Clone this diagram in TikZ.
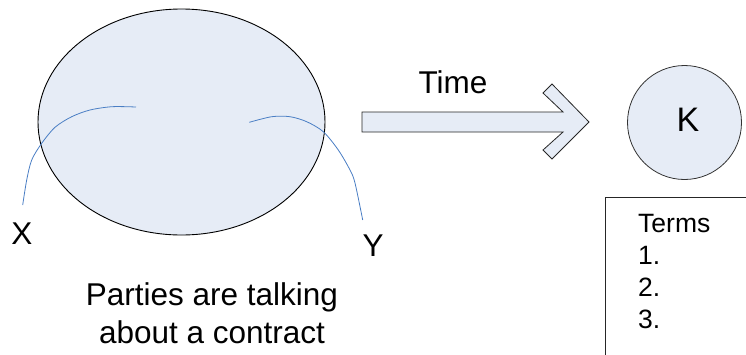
\documentclass[tikz,border=0pt]{standalone}
\usepackage{fontspec}
\setmainfont{Liberation Sans}
\usetikzlibrary{shapes.geometric}
\definecolor{paleblue}{RGB}{230,236,246}
\definecolor{lineblue}{RGB}{74,126,196}
\begin{document}
\begin{tikzpicture}[x=1pt,y=-1pt,
                big/.style={font=\fontsize{31.5}{37.7}\selectfont,inner sep=0pt},
                small/.style={font=\fontsize{26.5}{32}\selectfont,inner sep=0pt},
                talk/.style={lineblue,line width=0.8pt}]
                \clip (0,0) rectangle (746,354);
                \node[draw,fill=paleblue,ellipse,minimum width=287pt,minimum height=226pt,line width=0.9pt] (deal) at (181.5,122) {};
                \node[draw=black!80,fill=paleblue,circle,minimum size=114pt,line width=0.8pt] (k) at (684.5,122.5) {};
                \node[inner sep=0pt,font=\fontsize{34}{40}\selectfont,anchor=base] (klabel) at (688,131.7) {K};
                \foreach \x/\y/\n/\t in {22/244.3/partyx/X, 373/256/partyy/Y, 453/93.3/time/Time}
                \node[big,anchor=base] (\n) at (\x,\y) {\t};
                % the two parties talking
                \draw[talk] plot[smooth] coordinates {(136,107) (112,106.7) (90,110) (71.7,116.7) (55,127.3) (41.7,143.3) (31.7,160) (26.7,180) (22.7,205)};
                \draw[talk] plot[smooth] coordinates {(249.3,122.3) (271.7,116.7) (290,116.7) (306.7,121.7) (323.3,131.7) (338.3,150) (350,170) (355,183) (362.7,220)};
                \draw[black!85,fill=paleblue,line width=0.8pt] (362,112) -- (563,112) -- (543,93) -- (552,84) -- (589,122) -- (552,159) -- (543,150) -- (563,132) -- (362,132) -- cycle;
                \draw[black!85,line width=0.8pt] (605,197.3) rectangle (760,370);
                \node[small,anchor=north west,align=left] (terms) at (638,213.8) {Terms\\1.\\2.\\3.};
                \node[big,anchor=north,align=center] (caption) at (212,282.5) {Parties are talking\\about a contract};
\end{tikzpicture}
\end{document}
